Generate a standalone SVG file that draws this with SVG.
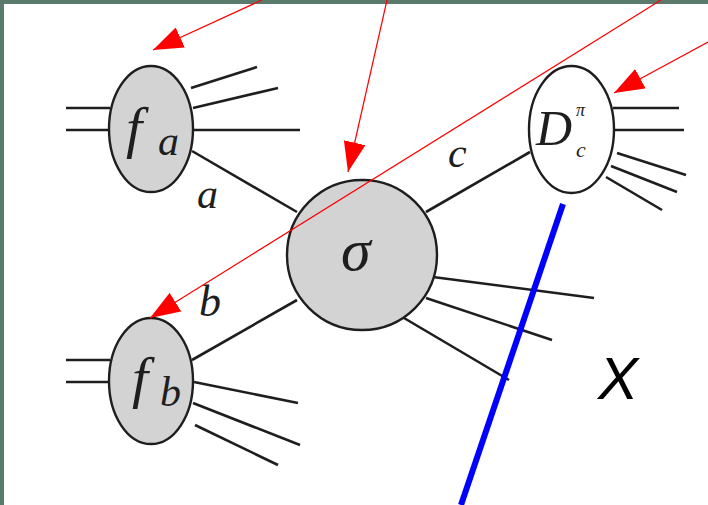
<svg xmlns="http://www.w3.org/2000/svg" width="708" height="505" viewBox="0 0 708 505">
<defs>
<marker id="ah" viewBox="0 0 30 22" refX="30" refY="11" markerWidth="30" markerHeight="22" markerUnits="userSpaceOnUse" orient="auto">
<path d="M0,0 L30,11 L0,22 z" fill="#ff0000"/>
</marker>
<style>
.ln{stroke:#1e1e1e;stroke-width:2.6;fill:none;stroke-linecap:butt}
.blob{fill:#d3d3d3;stroke:#1e1e1e;stroke-width:2.4}
.wblob{fill:#ffffff;stroke:#1e1e1e;stroke-width:2.4}
.m{font-family:"Liberation Serif","DejaVu Serif",serif;font-style:italic;fill:#1e1e1e}
.red{stroke:#ff0000;stroke-width:1.2;fill:none}
</style>
</defs>
<rect x="0" y="0" width="708" height="505" fill="#5a7a6c"/>
<rect x="4" y="4" width="704" height="501" fill="#ffffff"/>

<g id="connectors">
<line class="ln" x1="66" y1="108" x2="110" y2="108"/>
<line class="ln" x1="66" y1="130" x2="108" y2="130"/>
<line class="ln" x1="191" y1="88" x2="257" y2="67"/>
<line class="ln" x1="193" y1="108" x2="278" y2="88"/>
<line class="ln" x1="194" y1="130" x2="300" y2="130"/>
<line class="ln" x1="192" y1="151" x2="297" y2="212"/>
<line class="ln" x1="66" y1="360" x2="110" y2="360"/>
<line class="ln" x1="66" y1="382" x2="108" y2="382"/>
<line class="ln" x1="192" y1="360" x2="297" y2="300"/>
<line class="ln" x1="194" y1="382" x2="298" y2="403"/>
<line class="ln" x1="193" y1="403" x2="300" y2="445"/>
<line class="ln" x1="195" y1="425" x2="278" y2="465"/>
<line class="ln" x1="426" y1="212" x2="530" y2="152"/>
<line class="ln" x1="433" y1="277" x2="594" y2="298"/>
<line class="ln" x1="426" y1="298" x2="552" y2="340"/>
<line class="ln" x1="404" y1="318" x2="509" y2="380"/>
<line class="ln" x1="613" y1="108" x2="679" y2="108"/>
<line class="ln" x1="614" y1="130" x2="684" y2="130"/>
<line class="ln" x1="617" y1="153" x2="686" y2="175"/>
<line class="ln" x1="611" y1="166" x2="677" y2="192"/>
<line class="ln" x1="606" y1="177" x2="662" y2="210"/>
</g>

<g id="node-fa">
<ellipse class="blob" cx="151" cy="129" rx="42" ry="63"/>
<text class="m" x="126" y="147" font-size="58">f</text>
<text class="m" x="158" y="155" font-size="42">a</text>
</g>
<g id="node-fb">
<ellipse class="blob" cx="151" cy="381" rx="42" ry="63"/>
<text class="m" x="132" y="397" font-size="58">f</text>
<text class="m" x="160" y="406" font-size="42">b</text>
</g>
<g id="node-sigma">
<circle class="blob" cx="362" cy="255" r="75"/>
<text class="m" x="341" y="270" font-size="60">σ</text>
</g>
<g id="node-D">
<ellipse class="wblob" cx="571.5" cy="129.5" rx="42.5" ry="63.5"/>
<text class="m" x="536" y="145" font-size="50">D</text>
<text class="m" x="576" y="116" font-size="18">π</text>
<text class="m" x="576" y="157" font-size="22">c</text>
</g>

<g id="labels">
<text class="m" x="197" y="208" font-size="42">a</text>
<text class="m" x="199" y="316" font-size="44">b</text>
<text class="m" x="448" y="167" font-size="42">c</text>
<text x="598" y="399" font-size="60" font-style="italic" font-family="Liberation Sans, Arial, sans-serif" fill="#000000">X</text>
</g>

<g id="annotations">
<line class="red" x1="262" y1="0" x2="153" y2="50" marker-end="url(#ah)"/>
<line class="red" x1="387" y1="0" x2="348" y2="172" marker-end="url(#ah)"/>
<line class="red" x1="661" y1="0" x2="150" y2="318" marker-end="url(#ah)"/>
<line class="red" x1="708" y1="42" x2="614" y2="93" marker-end="url(#ah)"/>
<line x1="563" y1="204" x2="461" y2="505" stroke="#0000ff" stroke-width="6"/>
</g>
</svg>
